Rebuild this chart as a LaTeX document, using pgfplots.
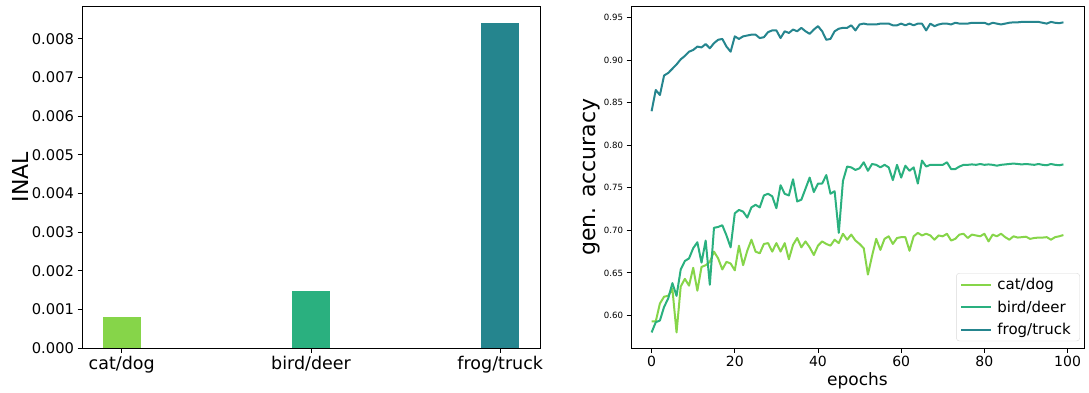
\documentclass[border=0pt]{standalone}
\usepackage{fontspec}
\setmainfont{DejaVu Sans}
\usepackage{pgfplots}
\usepackage{pgfplotstable}
\pgfplotsset{compat=1.18}
\definecolor{cA}{HTML}{86D549}
\definecolor{cB}{HTML}{2AB07F}
\definecolor{cC}{HTML}{25858E}
\newcommand{\fs}[1]{\fontsize{#1}{#1}\selectfont}

\pgfplotstableread{
e v
0 0.840
1 0.865
2 0.859
3 0.882
4 0.885
5 0.890
6 0.895
7 0.901
8 0.905
9 0.910
10 0.912
11 0.916
12 0.915
13 0.919
14 0.914
15 0.920
16 0.924
17 0.925
18 0.916
19 0.910
20 0.928
21 0.925
22 0.928
23 0.929
24 0.930
25 0.930
26 0.926
27 0.927
28 0.933
29 0.935
30 0.935
31 0.926
32 0.934
33 0.932
34 0.936
35 0.934
36 0.938
37 0.934
38 0.931
39 0.936
40 0.940
41 0.934
42 0.924
43 0.925
44 0.934
45 0.937
46 0.938
47 0.938
48 0.941
49 0.935
50 0.942
51 0.943
52 0.942
53 0.942
54 0.942
55 0.943
56 0.943
57 0.943
58 0.941
59 0.941
60 0.943
61 0.941
62 0.943
63 0.941
64 0.943
65 0.943
66 0.935
67 0.943
68 0.940
69 0.942
70 0.943
71 0.943
72 0.942
73 0.944
74 0.943
75 0.943
76 0.943
77 0.944
78 0.944
79 0.944
80 0.944
81 0.942
82 0.944
83 0.943
84 0.942
85 0.943
86 0.944
87 0.9445
88 0.9445
89 0.945
90 0.945
91 0.945
92 0.945
93 0.945
94 0.944
95 0.943
96 0.945
97 0.944
98 0.9435
99 0.9445
}\frog

\pgfplotstableread{
e v
0 0.580
1 0.592
2 0.594
3 0.610
4 0.620
5 0.638
6 0.623
7 0.654
8 0.664
9 0.667
10 0.679
11 0.686
12 0.662
13 0.688
14 0.636
15 0.703
16 0.704
17 0.706
18 0.694
19 0.680
20 0.720
21 0.724
22 0.722
23 0.715
24 0.727
25 0.730
26 0.727
27 0.741
28 0.743
29 0.740
30 0.726
31 0.753
32 0.743
33 0.741
34 0.760
35 0.734
36 0.736
37 0.749
38 0.762
39 0.745
40 0.755
41 0.755
42 0.765
43 0.743
44 0.746
45 0.697
46 0.758
47 0.775
48 0.774
49 0.771
50 0.773
51 0.780
52 0.770
53 0.778
54 0.777
55 0.774
56 0.777
57 0.774
58 0.759
59 0.777
60 0.762
61 0.776
62 0.770
63 0.774
64 0.755
65 0.782
66 0.775
67 0.777
68 0.777
69 0.777
70 0.777
71 0.780
72 0.772
73 0.772
74 0.775
75 0.777
76 0.777
77 0.7775
78 0.777
79 0.778
80 0.777
81 0.7775
82 0.777
83 0.776
84 0.777
85 0.7775
86 0.778
87 0.7785
88 0.778
89 0.7775
90 0.778
91 0.7775
92 0.777
93 0.778
94 0.777
95 0.7765
96 0.778
97 0.777
98 0.7765
99 0.7775
}\bird

\pgfplotstableread{
e v
0 0.593
1 0.593
2 0.614
3 0.622
4 0.623
5 0.631
6 0.580
7 0.634
8 0.643
9 0.635
10 0.656
11 0.629
12 0.657
13 0.659
14 0.663
15 0.675
16 0.667
17 0.654
18 0.663
19 0.661
20 0.653
21 0.682
22 0.659
23 0.676
24 0.689
25 0.675
26 0.673
27 0.684
28 0.685
29 0.675
30 0.685
31 0.675
32 0.685
33 0.666
34 0.683
35 0.691
36 0.680
37 0.687
38 0.680
39 0.671
40 0.682
41 0.687
42 0.684
43 0.682
44 0.689
45 0.685
46 0.696
47 0.689
48 0.695
49 0.688
50 0.684
51 0.679
52 0.648
53 0.670
54 0.690
55 0.677
56 0.690
57 0.693
58 0.684
59 0.691
60 0.692
61 0.692
62 0.676
63 0.693
64 0.697
65 0.694
66 0.696
67 0.694
68 0.689
69 0.694
70 0.693
71 0.696
72 0.688
73 0.690
74 0.695
75 0.696
76 0.691
77 0.695
78 0.694
79 0.693
80 0.696
81 0.687
82 0.695
83 0.693
84 0.696
85 0.692
86 0.689
87 0.693
88 0.6915
89 0.692
90 0.6925
91 0.690
92 0.691
93 0.6915
94 0.6915
95 0.692
96 0.689
97 0.692
98 0.693
99 0.6945
}\cat

\pgfplotsset{
  common/.style={
    scale only axis, anchor=south west,
    axis line style={line width=0.9pt, black},
    tick style={line width=0.9pt, black},
    tick align=outside, major tick length=4.5pt,
    xtick pos=left, ytick pos=left,
    /pgf/number format/assume math mode=true,
  }
}

\begin{document}
\begin{tikzpicture}
\useasboundingbox (0,0) rectangle (1089pt,392pt);
\begin{axis}[
  common,
  at={(82pt,44pt)}, width=458pt, height=342pt,
  xmin=-0.21, xmax=2.21, ymin=0, ymax=0.00885,
  xtick={0,1,2}, xticklabels={cat/dog,bird/deer,frog/truck},
  ytick={0,0.001,0.002,0.003,0.004,0.005,0.006,0.007,0.008},
  scaled y ticks=false,
  yticklabel style={font=\fs{14.7}, /pgf/number format/.cd, fixed, fixed zerofill, precision=3},
  xticklabel style={font=\fs{17.5}},
  ylabel={INAL},
  every axis y label/.append style={at={(axis description cs:-0.135,0.5)}, anchor=center, font=\fs{22}},
]
\addplot[ybar, bar width=0.2, bar shift=0pt, fill=cA, draw=none] coordinates {(0,0.00081)};
\addplot[ybar, bar width=0.2, bar shift=0pt, fill=cB, draw=none] coordinates {(1,0.00148)};
\addplot[ybar, bar width=0.2, bar shift=0pt, fill=cC, draw=none] coordinates {(2,0.00842)};
\end{axis}

\begin{axis}[
  common,
  at={(631pt,44pt)}, width=453pt, height=342pt,
  xmin=-4.95, xmax=103.95, ymin=0.5617, ymax=0.9637,
  xtick={0,20,40,60,80,100},
  ytick={0.60,0.65,0.70,0.75,0.80,0.85,0.90,0.95},
  yticklabel style={font=\fs{8.6}, /pgf/number format/.cd, fixed, fixed zerofill, precision=2},
  xticklabel style={font=\fs{14}},
  xlabel={epochs},
  every axis x label/.append style={at={(axis description cs:0.5,-0.097)}, anchor=center, font=\fs{17}},
  ylabel={gen. accuracy},
  every axis y label/.append style={at={(axis description cs:-0.086,0.5)}, anchor=center, font=\fs{22}},
  legend cell align=left,
  legend image code/.code={\draw[#1, line width=2pt] (0pt,0pt) -- (30pt,0pt);},
  legend style={at={(axis description cs:0.991,0.02)}, anchor=south east,
    font=\fs{15}, draw=black!15, rounded corners=3pt, fill=white, fill opacity=0.8, text opacity=1,
    inner xsep=4pt, inner ysep=3pt, row sep=5.5pt,
    nodes={inner xsep=5pt}},
]
\addplot[cA, line width=2pt, line join=round] table[x=e,y=v] {\cat};
\addlegendentry{cat/dog}
\addplot[cB, line width=2pt, line join=round] table[x=e,y=v] {\bird};
\addlegendentry{bird/deer}
\addplot[cC, line width=2pt, line join=round] table[x=e,y=v] {\frog};
\addlegendentry{frog/truck}
\end{axis}
\end{tikzpicture}
\end{document}
